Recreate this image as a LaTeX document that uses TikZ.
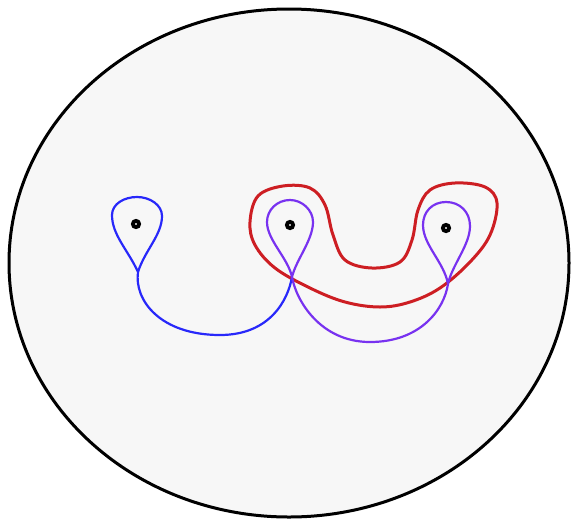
\documentclass[tikz,border=0pt]{standalone}
\usepackage{tikz}
\usetikzlibrary{arrows.meta,positioning,calc}
\definecolor{loopblue}{RGB}{40,40,250}
\definecolor{loopviolet}{RGB}{120,50,240}
\definecolor{bandred}{RGB}{205,30,35}

\begin{document}
\begin{tikzpicture}[x=1pt, y=-1pt,
		puncture/.style={circle, draw=black, line width=3.6pt, fill=black!25, inner sep=0pt, minimum size=6.5pt},
		strand/.style={line width=2.2pt, line join=round}]
				\useasboundingbox (0,0) rectangle (578,523);
				\draw[line width=3pt, fill=black!3] (289,263) ellipse [x radius=280, y radius=254];
				% red band around the two right punctures
				\draw[strand, line width=3pt, bandred] plot[smooth cycle, tension=0.6] coordinates {
					(250,222) (258,196) (283,186) (310,188) (325,205) (333,235) (345,260) (372,268)
					(400,262) (412,240) (418,210) (430,190) (455,183) (485,187) (497,203) (490,235)
					(470,262) (440,288) (410,302) (380,307) (345,302) (310,288) (275,268) (255,245)};
				% blue part of the arc
				\draw[strand, loopblue] (138,272) .. controls (128,250) and (112,235) .. (112,215)
					.. controls (112,204) and (124,197) .. (137,197)
					.. controls (150,197) and (162,205) .. (162,216)
					.. controls (162,235) and (145,250) .. (138,272)
					.. controls (134,300) and (160,335) .. (220,335)
					.. controls (270,335) and (288,300) .. (292,277);
				% violet part of the arc
				\draw[strand, loopviolet] (292,277) .. controls (296,260) and (313,240) .. (313,222)
					.. controls (313,210) and (302,200) .. (290,200)
					.. controls (277,200) and (267,210) .. (267,222)
					.. controls (267,240) and (288,258) .. (292,277)
					.. controls (296,300) and (320,342) .. (370,342)
					.. controls (420,342) and (444,310) .. (448,284)
					.. controls (452,265) and (470,245) .. (470,226)
					.. controls (470,212) and (460,202) .. (446,202)
					.. controls (432,202) and (423,212) .. (423,225)
					.. controls (423,245) and (444,262) .. (448,284);
				\node[puncture] (pL) at (136,224) {};
				\node[puncture] (pM) at (290,225) {};
				\node[puncture] (pR) at (446,228) {};
			\end{tikzpicture}
\end{document}
